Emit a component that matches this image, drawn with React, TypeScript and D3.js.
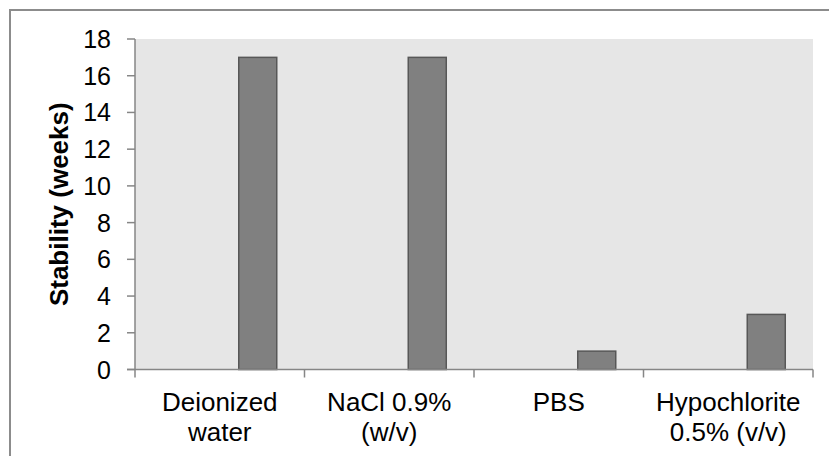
import React from "react";
import * as d3 from "d3";

const categories: string[][] = [
  ["Deionized", "water"],
  ["NaCl 0.9%", "(w/v)"],
  ["PBS"],
  ["Hypochlorite", "0.5% (v/v)"],
];
const seriesSlots = ["s1", "s2", "stability"];
const stabilityWeeks = [17, 17, 1, 3];
const yTicks = [0, 2, 4, 6, 8, 10, 12, 14, 16, 18];
const yLabel = "Stability (weeks)";

const W = 829;
const H = 456;
const M = { left: 135, right: 16, top: 39, bottom: 86.5 };

export default function App() {
  const x = d3
    .scaleBand<number>()
    .domain(categories.map((_, i) => i))
    .range([M.left, W - M.right])
    .paddingInner(0)
    .paddingOuter(0);
  const inner = d3
    .scaleBand<string>()
    .domain(seriesSlots)
    .range([0, x.bandwidth()])
    .paddingOuter(0.73)
    .paddingInner(0);
  const y = d3.scaleLinear().domain([0, 18]).range([H - M.bottom, M.top]);
  const font = "Arial, 'Liberation Sans', sans-serif";
  const x0 = M.left;
  const x1 = W - M.right;
  const y0 = y(0);
  const boundaries = d3.range(categories.length + 1).map((i) =>
    i < categories.length ? (x(i) as number) : x1
  );

  return (
    <svg
      width={W}
      height={H}
      style={{ position: "absolute", left: 0, top: 0, background: "#fff" }}
    >
      <rect x={10} y={10} width={W + 10} height={H + 10} fill="#fff" stroke="#8c8c8c" strokeWidth={2} />
      <rect x={x0} y={M.top} width={x1 - x0} height={y0 - M.top} fill="#e6e6e6" />
      {stabilityWeeks.map((v, i) => (
        <rect
          key={i}
          x={(x(i) as number) + (inner("stability") as number)}
          y={y(v)}
          width={inner.bandwidth()}
          height={y0 - y(v)}
          fill="#808080"
          stroke="#575757"
          strokeWidth={1.5}
        />
      ))}
      {/* y axis */}
      <line x1={x0} x2={x0} y1={M.top} y2={y0} stroke="#868686" strokeWidth={1.5} />
      {yTicks.map((t) => (
        <g key={t}>
          <line x1={x0 - 8} x2={x0} y1={y(t)} y2={y(t)} stroke="#868686" strokeWidth={1.5} />
          <text
            x={x0 - 24}
            y={y(t)}
            dy="0.36em"
            textAnchor="end"
            fontFamily={font}
            fontSize={25}
            fill="#000"
          >
            {t}
          </text>
        </g>
      ))}
      {/* x axis */}
      <line x1={x0 - 8} x2={x1} y1={y0} y2={y0} stroke="#868686" strokeWidth={1.5} />
      {boundaries.map((b, i) => (
        <line key={i} x1={b} x2={b} y1={y0} y2={y0 + 8} stroke="#868686" strokeWidth={1.5} />
      ))}
      {categories.map((lines, i) => (
        <text
          key={i}
          textAnchor="middle"
          fontFamily={font}
          fontSize={26}
          fill="#000"
        >
          {lines.map((l, j) => (
            <tspan key={j} x={(x(i) as number) + x.bandwidth() / 2} y={411 + j * 29.5}>
              {l}
            </tspan>
          ))}
        </text>
      ))}
      <text
        transform={`translate(${68},${(M.top + y0) / 2}) rotate(-90)`}
        textAnchor="middle"
        fontFamily={font}
        fontSize={26}
        fontWeight="bold"
        fill="#000"
      >
        {yLabel}
      </text>
    </svg>
  );
}
